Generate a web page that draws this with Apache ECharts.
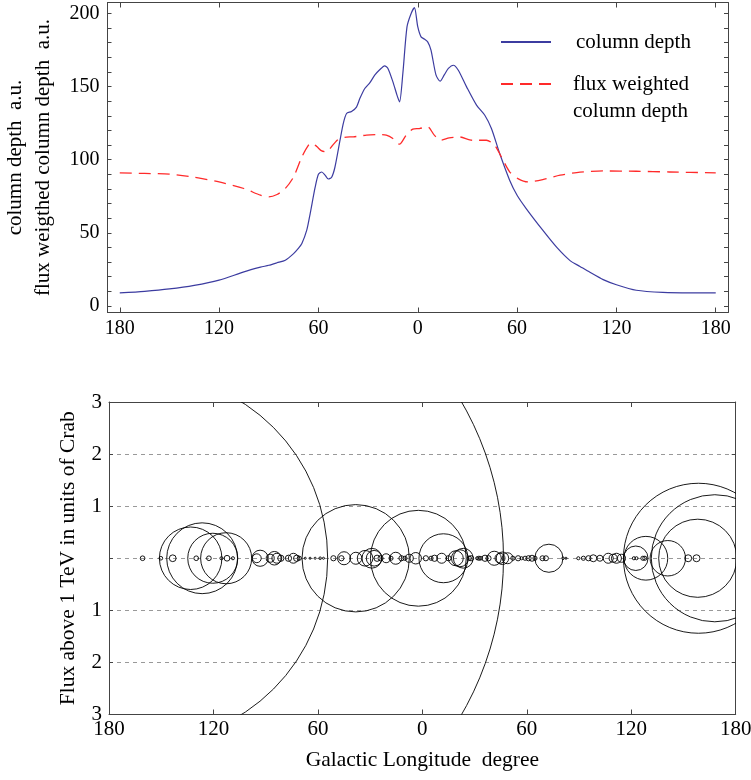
<!DOCTYPE html>
<html><head><meta charset="utf-8">
<script src="https://cdn.jsdelivr.net/npm/echarts@6/dist/echarts.min.js"></script>
<style>html,body{margin:0;padding:0;background:#fff}#c{width:751px;height:780px}</style>
</head><body><div id="c"></div>
<script>
// ---- tick labels ----
const lonTicks = [180, 120, 60, 0, -60, -120, -180];
const depthLabelTicks = [0, 50, 100, 150, 200];
const depthMinorTicks = [0,10,20,30,40,50,60,70,80,90,100,110,120,130,140,150,160,170,180,190,200];

// ---- top panel: column depth (longitude offset, left = positive) ----
const colDepthLon = [180,165,150,135,120,105,95,90,85,80,75,72,70,67,65,62,60,58,56,54,52,50,47,45,43,40,37,35,32,29,26,23,20,18,15,12.5,11,9,6.5,4,2,0,-2,-4,-6,-8,-11,-13.5,-16,-18.5,-21.5,-24.5,-29.5,-35.5,-40.5,-44.5,-49.5,-55.5,-60,-65.5,-75.5,-84,-92,-98,-104,-112,-120,-132,-148,-165,-180];
const colDepthVal = [8.9,10,11.6,14,17.6,23.3,26.5,27.8,29.5,31.3,35.8,39.5,42.7,52,63,81,90,91.6,89.5,86.8,88,95,113,124.7,131.6,133,136,141.8,148.7,152.5,157.8,161.5,164.2,162.4,153.2,144,139.5,159,190.8,200,204,191,184,182.5,180.6,175,158,153.7,158,162.4,164.6,161.2,149.8,137.3,130.4,121.3,104.2,86,75.7,66.6,51.8,40,31,27,23,18,14.5,10.7,9.2,8.9,8.9];

// ---- top panel: flux weighted column depth ----
const fluxWLon = [180,165,150,135,120,105,95,90,85,80,75,70,66,64,61,58,55,52,49,47,43,39,31,23,19,15,11,7,3,-1,-6,-10,-14,-19,-25,-33,-41.5,-46.5,-51.5,-55.5,-60.5,-66.5,-75.5,-86,-96,-112,-132,-152,-180];
const fluxWVal = [91,90.6,90.1,88,84.8,80.3,75.7,74.6,76.2,80.3,88.2,101.9,110,111.5,109,106,105.3,109,113,114.5,115.5,115.6,116.8,117.2,116.8,114.5,110.6,116.8,120.9,121.3,122.5,116.8,113.3,114.9,115.6,113.3,113.3,109.9,99.7,91.7,87.1,84.8,86.4,89.4,91.2,92.3,92.1,91.6,91];

// ---- bottom panel: sources (longitude offset, flux in Crab = circle radius) ----
const srcLon = [160.6,132.9,160.7,150.2,143.4,133.1,126.5,120.4,112.7,129.9,122.6,115.4,112.2,108.8,95.1,93.2,87.4,85.0,83.6,81.3,76.9,74.1,72.2,70.7,67.3,64.5,61.6,58.7,56.8,51.1,46.5,45,38.3,38.2,32.9,29.0,27.7,26,24,20.8,18,15.3,12,10,7.5,3.8,2.3,-2,-5,-7,-11.1,-12.1,-15,-19.2,-21.6,-23.5,-27,-28,-31.5,-32.5,-33.5,-36,-38,-41.3,-44.6,-46,-49,-52,-55,-57,-59,-61,-63,-64.7,-69,-71,-72.7,-80.8,-82.5,-89.6,-92.5,-95.4,-98.2,-102,-106.8,-109.6,-111.5,-114.4,-121.5,-123,-122.6,-126.7,-127.8,-128.4,-141,-152.7,-157.5,-158.2,-158.6,-168];
const srcFlux = [3.55,6.0,0.045,0.035,0.065,0.60,0.68,0.48,0.49,0.045,0.045,0.03,0.055,0.03,0.085,0.155,0.077,0.13,0.095,0.06,0.06,0.095,0.06,0.04,0.02,0.02,0.02,0.025,0.02,0.05,0.05,0.125,1.03,0.115,0.15,0.19,0.15,0.06,0.05,0.086,0.04,0.115,0.05,0.04,0.077,0.11,0.92,0.05,0.04,0.06,0.096,0.47,0.05,0.144,0.163,0.19,0.04,0.05,0.03,0.04,0.035,0.06,0.05,0.135,0.096,0.12,0.105,0.04,0.05,0.03,0.04,0.05,0.058,0.04,0.048,0.048,0.27,0.025,0.02,0.03,0.04,0.05,0.067,0.058,0.096,0.077,0.096,0.077,0.03,0.03,0.235,0.04,0.04,0.42,0.34,0.067,0.067,0.75,1.44,1.22];

const FONT = 'Liberation Serif';
const FRAME = '#444';
const zip = (a, b) => a.map((v, i) => [v, b[i]]);

const lineAxis = { show: true, onZero: false, lineStyle: { color: FRAME, width: 1 } };
const noLabel = { show: false };

const chart = echarts.init(document.getElementById('c'));
chart.setOption({
  animation: false,
  backgroundColor: '#fff',
  grid: [
    { left: 107.5, top: 2.5, width: 620.5, height: 310, outerBoundsMode: 'none', containLabel: false },
    { left: 109, top: 402, width: 626.7, height: 312.5, outerBoundsMode: 'none', containLabel: false }
  ],
  legend: [
    {
      data: ['column depth'], orient: 'vertical', left: 500, top: 28.5, padding: 0,
      itemWidth: 50, itemHeight: 14, itemStyle: { opacity: 0 },
      textStyle: { fontFamily: FONT, fontSize: 21, color: '#000', lineHeight: 27, padding: [0, 0, 0, 20] }
    },
    {
      data: ['flux weighted\ncolumn depth'], orient: 'vertical', left: 500, top: 43.5, padding: 0,
      itemWidth: 50, itemHeight: 14, itemStyle: { opacity: 0 },
      formatter: name => '\n' + name,
      textStyle: { fontFamily: FONT, fontSize: 21, color: '#000', lineHeight: 27, padding: [0, 0, 0, 17] }
    }
  ],
  xAxis: [
    {
      type: 'value', gridIndex: 0, min: -187.4, max: 187.4, inverse: true,
      axisLine: lineAxis,
      axisTick: { inside: true, length: 5, customValues: lonTicks, lineStyle: { color: FRAME } },
      axisLabel: { customValues: lonTicks, formatter: v => String(Math.abs(v)), fontFamily: FONT, fontSize: 20, color: '#000', margin: 6 },
      splitLine: { show: false }
    },
    {
      type: 'value', gridIndex: 0, position: 'top', min: -187.4, max: 187.4, inverse: true,
      axisLine: lineAxis,
      axisTick: { inside: true, length: 5, customValues: lonTicks, lineStyle: { color: FRAME } },
      axisLabel: noLabel, splitLine: { show: false }
    },
    {
      type: 'value', gridIndex: 1, min: -180, max: 180, interval: 60, inverse: true,
      axisLine: lineAxis,
      axisTick: { inside: true, length: 5, lineStyle: { color: FRAME } },
      axisLabel: { formatter: v => String(Math.abs(v)), fontFamily: FONT, fontSize: 21, color: '#000', margin: 4 },
      splitLine: { show: false },
      name: 'Galactic Longitude  degree', nameLocation: 'middle', nameGap: 35,
      nameTextStyle: { fontFamily: FONT, fontSize: 21.5, color: '#000' }
    },
    {
      type: 'value', gridIndex: 1, position: 'top', min: -180, max: 180, interval: 60, inverse: true,
      axisLine: lineAxis,
      axisTick: { inside: true, length: 5, lineStyle: { color: FRAME } },
      axisLabel: noLabel, splitLine: { show: false }
    }
  ],
  yAxis: [
    {
      type: 'value', gridIndex: 0, min: -4.5, max: 207.5,
      axisLine: lineAxis,
      axisTick: { inside: true, length: 4, customValues: depthMinorTicks, lineStyle: { color: FRAME } },
      axisLabel: { customValues: depthLabelTicks, fontFamily: FONT, fontSize: 20, color: '#000', margin: 8 },
      splitLine: { show: false },
      name: 'column depth  a.u.\nflux weigthed column depth  a.u.',
      nameLocation: 'middle', nameRotate: 90, nameGap: 50,
      nameTextStyle: { fontFamily: FONT, fontSize: 21, color: '#000', lineHeight: 28, align: 'center' }
    },
    {
      type: 'value', gridIndex: 0, position: 'right', min: -4.5, max: 207.5,
      axisLine: lineAxis,
      axisTick: { inside: true, length: 4, customValues: depthMinorTicks, lineStyle: { color: FRAME } },
      axisLabel: noLabel, splitLine: { show: false }
    },
    {
      type: 'value', gridIndex: 1, min: -3, max: 3, interval: 1,
      axisLine: lineAxis,
      axisTick: { inside: true, length: 4, lineStyle: { color: FRAME } },
      axisLabel: { formatter: v => v === 0 ? '' : String(Math.abs(v)), fontFamily: FONT, fontSize: 21, color: '#000', margin: 7 },
      splitLine: { show: true, showMinLine: false, showMaxLine: false, lineStyle: { color: '#999', width: 1, type: [4, 4] } },
      name: 'Flux above 1 TeV in units of Crab',
      nameLocation: 'middle', nameRotate: 90, nameGap: 30,
      nameTextStyle: { fontFamily: FONT, fontSize: 21.5, color: '#000' }
    },
    {
      type: 'value', gridIndex: 1, position: 'right', min: -3, max: 3, interval: 1,
      axisLine: lineAxis,
      axisTick: { inside: true, length: 4, lineStyle: { color: FRAME } },
      axisLabel: noLabel, splitLine: { show: false }
    }
  ],
  series: [
    {
      name: 'column depth', type: 'line', xAxisIndex: 0, yAxisIndex: 0,
      data: zip(colDepthLon, colDepthVal), symbol: 'none', smooth: 0.25,
      lineStyle: { color: '#3c3ca0', width: 1.2 }, itemStyle: { color: '#3c3ca0' }
    },
    {
      name: 'flux weighted\ncolumn depth', type: 'line', xAxisIndex: 0, yAxisIndex: 0,
      data: zip(fluxWLon, fluxWVal), symbol: 'none', smooth: 0.25,
      lineStyle: { color: '#ff2a2a', width: 1.3, type: [12, 7] }, itemStyle: { color: '#ff2a2a' }
    },
    {
      name: 'sources', type: 'custom', xAxisIndex: 2, yAxisIndex: 2, clip: true,
      data: zip(srcLon, srcFlux),
      renderItem: (params, api) => {
        const c = api.coord([api.value(0), 0]);
        const r = Math.max(api.size([0, api.value(1)])[1], 0.8);
        return { type: 'circle', shape: { cx: c[0], cy: c[1], r: r },
                 style: { fill: 'none', stroke: '#000', lineWidth: 0.9 } };
      }
    }
  ]
});
</script></body></html>
